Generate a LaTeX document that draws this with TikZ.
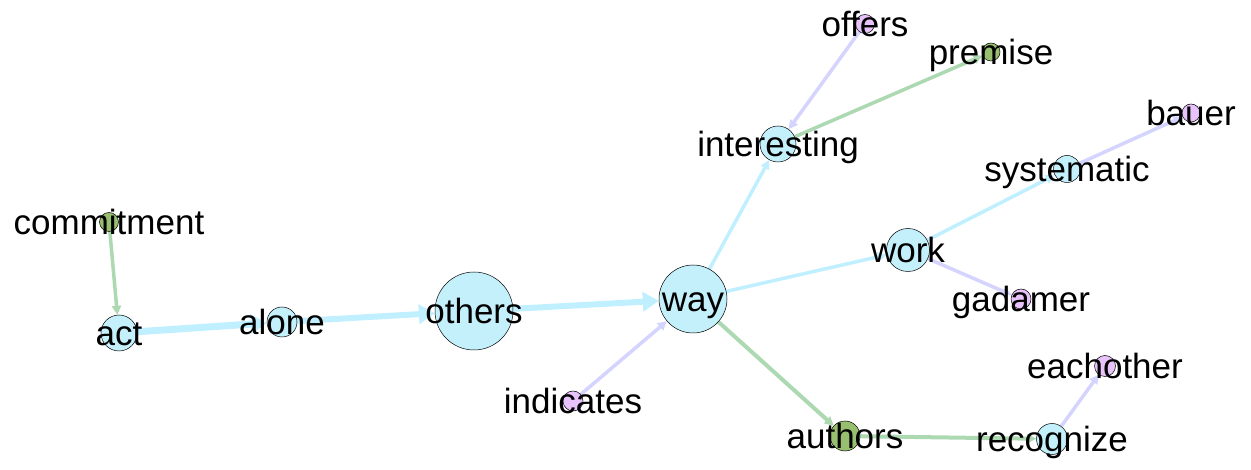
\documentclass[tikz,border=0pt]{standalone}
\usepackage{fontspec}
\setmainfont{Liberation Sans}
\usetikzlibrary{arrows.meta}
\definecolor{nodecyan}{RGB}{196,240,252}
\definecolor{edgecyan}{RGB}{192,240,255}
\definecolor{edgelav}{RGB}{212,212,255}
\definecolor{edgegreen}{RGB}{172,216,178}
\definecolor{nodegreen}{RGB}{152,190,112}
\definecolor{nodepink}{RGB}{232,194,250}
\tikzset{
  vtx/.style={circle, draw=black, line width=0.5bp, inner sep=0pt, minimum size=#1},
  cnode/.style={vtx=#1, fill=nodecyan},
  gnode/.style={vtx=#1, fill=nodegreen},
  pnode/.style={vtx=#1, fill=nodepink},
  lab/.style={anchor=base, inner sep=0pt, font=\fontsize{35bp}{35bp}\selectfont},
  ecyan/.style={draw=edgecyan, line width=#1},
  elav/.style={draw=edgelav, line width=#1},
  egreen/.style={draw=edgegreen, line width=#1},
  tipS/.style={-{Triangle[length=9bp,width=9bp]}},
  tipL/.style={-{Triangle[length=16bp,width=19bp]}},
}
\begin{document}
\begin{tikzpicture}[x=1bp,y=-1bp]
\useasboundingbox (0,0) rectangle (1251,470);
% vertices (placed first so edges can refer to them; redrawn on top below)
\begin{scope}[opacity=0]
\node[cnode=36bp] (act) at (119,333) {};
\node[gnode=19bp] (commitment) at (109,222) {};
\node[cnode=30bp] (alone) at (282,322) {};
\node[cnode=78bp] (others) at (474,311) {};
\node[cnode=68bp] (way) at (693,299) {};
\node[pnode=20bp] (indicates) at (573,401) {};
\node[cnode=36bp] (interesting) at (778,144) {};
\node[pnode=19bp] (offers) at (865,24) {};
\node[gnode=18bp] (premise) at (991,52) {};
\node[cnode=27bp] (systematic) at (1067,169) {};
\node[pnode=18bp] (bauer) at (1191,113) {};
\node[cnode=43bp] (work) at (908,250) {};
\node[pnode=20bp] (gadamer) at (1021,299) {};
\node[gnode=30bp] (authors) at (845,436) {};
\node[cnode=31bp] (recognize) at (1052,439) {};
\node[pnode=21bp] (eachother) at (1105,366) {};
\end{scope}
% edges
\draw[egreen=3.5bp, tipS] (commitment) -- (act);
\draw[ecyan=7bp, tipL] (act) -- (alone);
\draw[ecyan=6bp, tipL] (alone) -- (others);
\draw[ecyan=6bp, tipL] (others) -- (way);
\draw[elav=3.5bp, tipS] (indicates) -- (way);
\draw[ecyan=3.5bp, tipS] (way) -- (interesting);
\draw[elav=3.5bp, tipS] (offers) -- (interesting);
\draw[egreen=3.5bp, tipS] (interesting) -- (premise);
\draw[ecyan=3.5bp, tipS] (way) -- (work);
\draw[ecyan=3.5bp, tipS] (work) -- (systematic);
\draw[elav=3.5bp, tipS] (systematic) -- (bauer);
\draw[elav=3.5bp, tipS] (work) -- (gadamer);
\draw[egreen=4bp, tipS] (way) -- (authors);
\draw[egreen=4bp, tipS] (authors) -- (recognize);
\draw[elav=3.5bp, tipS] (recognize) -- (eachother);
% visible vertices
\node[cnode=36bp] at (act) {};
\node[gnode=19bp] at (commitment) {};
\node[cnode=30bp] at (alone) {};
\node[cnode=78bp] at (others) {};
\node[cnode=68bp] at (way) {};
\node[pnode=20bp] at (indicates) {};
\node[cnode=36bp] at (interesting) {};
\node[pnode=19bp] at (offers) {};
\node[gnode=18bp] at (premise) {};
\node[cnode=27bp] at (systematic) {};
\node[pnode=18bp] at (bauer) {};
\node[cnode=43bp] at (work) {};
\node[pnode=20bp] at (gadamer) {};
\node[gnode=30bp] at (authors) {};
\node[cnode=31bp] at (recognize) {};
\node[pnode=21bp] at (eachother) {};
% labels
\node[lab] (l-act) at ([yshift=-13bp]act.center) {act};
\node[lab] (l-commitment) at ([yshift=-13bp]commitment.center) {commitment};
\node[lab] (l-alone) at ([yshift=-13bp]alone.center) {alone};
\node[lab] (l-others) at ([yshift=-13bp]others.center) {others};
\node[lab] (l-way) at ([yshift=-13bp]way.center) {way};
\node[lab] (l-indicates) at ([yshift=-13bp]indicates.center) {indicates};
\node[lab] (l-interesting) at ([yshift=-13bp]interesting.center) {interesting};
\node[lab] (l-offers) at ([yshift=-13bp]offers.center) {offers};
\node[lab] (l-premise) at ([yshift=-13bp]premise.center) {premise};
\node[lab] (l-systematic) at ([yshift=-13bp]systematic.center) {systematic};
\node[lab] (l-bauer) at ([yshift=-13bp]bauer.center) {bauer};
\node[lab] (l-work) at ([yshift=-13bp]work.center) {work};
\node[lab] (l-gadamer) at ([yshift=-13bp]gadamer.center) {gadamer};
\node[lab] (l-authors) at ([yshift=-13bp]authors.center) {authors};
\node[lab] (l-recognize) at ([yshift=-13bp]recognize.center) {recognize};
\node[lab] (l-eachother) at ([yshift=-13bp]eachother.center) {eachother};
\end{tikzpicture}
\end{document}
